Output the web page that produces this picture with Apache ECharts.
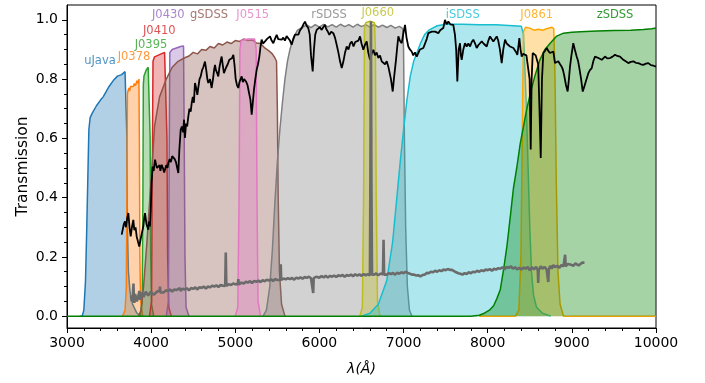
<!DOCTYPE html>
<html><head><meta charset="utf-8">
<script src="https://cdn.jsdelivr.net/npm/echarts@6/dist/echarts.min.js"></script>
<style>html,body{margin:0;padding:0;background:#fff}#c{width:705px;height:383px}</style>
</head><body><div id="c"></div>
<script>
// ---------- data ----------
const filterNames  = ['uJava','J0378','J0395','J0410','J0430','gSDSS','J0515','rSDSS','J0660','iSDSS','J0861','zSDSS'];
const filterColors = ['#1f77b4','#ff7f0e','#2ca02c','#d62728','#9467bd','#8c564b','#e377c2','#7f7f7f','#bcbd22','#17becf','#ffa500','#008000'];
const labelLam = [3392,3796,3998,4097,4204,4688,5207,6114,6693,7703,8582,9513];
const labelT   = [0.862,0.875,0.916,0.963,1.017,1.017,1.017,1.017,1.023,1.017,1.017,1.017];

const uJava = [[3150,0],[3180,0],[3200,0.02],[3220,0.12],[3235,0.3],[3250,0.5],[3260,0.63],[3275,0.67],[3300,0.685],[3350,0.71],[3400,0.73],[3430,0.74],[3470,0.76],[3500,0.775],[3550,0.795],[3600,0.81],[3650,0.815],[3690,0.825],[3706,0.83],[3712,0.6],[3718,0.3],[3730,0.15],[3750,0.08],[3780,0.04],[3830,0.01],[3880,0]];
const J0378 = [[3660,0],[3690,0.02],[3705,0.1],[3712,0.4],[3718,0.75],[3725,0.76],[3735,0.77],[3745,0.76],[3755,0.775],[3765,0.77],[3775,0.78],[3790,0.775],[3800,0.785],[3815,0.778],[3830,0.795],[3845,0.785],[3855,0.8],[3860,0.6],[3866,0.2],[3875,0.05],[3900,0]];
const J0395 = [[3870,0],[3893,0.05],[3902,0.4],[3907,0.78],[3915,0.81],[3940,0.83],[3965,0.84],[3980,0.845],[3988,0.6],[3995,0.2],[4005,0.04],[4030,0]];
const J0410 = [[3980,0],[4005,0.05],[4014,0.5],[4022,0.86],[4040,0.875],[4080,0.88],[4120,0.885],[4160,0.89],[4180,0.893],[4188,0.6],[4196,0.2],[4210,0.03],[4240,0]];
const J0430 = [[4180,0],[4205,0.05],[4214,0.5],[4222,0.89],[4250,0.9],[4300,0.905],[4350,0.91],[4385,0.912],[4393,0.6],[4402,0.2],[4415,0.03],[4450,0]];
const gSDSS = [[3850,0],[3880,0.02],[3910,0.1],[3950,0.25],[3985,0.4],[4010,0.5],[4040,0.64],[4100,0.74],[4180,0.8],[4250,0.84],[4320,0.86],[4400,0.872],[4450,0.878],[4500,0.89],[4550,0.885],[4600,0.9],[4650,0.897],[4700,0.91],[4750,0.905],[4800,0.92],[4850,0.915],[4900,0.925],[4950,0.92],[5000,0.93],[5050,0.927],[5100,0.935],[5150,0.93],[5200,0.932],[5250,0.922],[5300,0.92],[5350,0.905],[5400,0.895],[5440,0.885],[5470,0.872],[5490,0.86],[5500,0.7],[5510,0.4],[5525,0.15],[5550,0.04],[5590,0]];
const J0515 = [[5000,0],[5030,0.03],[5045,0.4],[5055,0.9],[5070,0.93],[5150,0.935],[5230,0.935],[5248,0.9],[5258,0.4],[5270,0.05],[5300,0]];
const rSDSS = [[5330,0],[5370,0.02],[5410,0.1],[5440,0.22],[5470,0.38],[5500,0.52],[5530,0.63],[5560,0.72],[5590,0.8],[5620,0.86],[5650,0.9],[5690,0.94],[5740,0.965],[5800,0.975],[5850,0.983],[5900,0.974],[5950,0.984],[6000,0.975],[6050,0.985],[6100,0.976],[6150,0.984],[6200,0.975],[6250,0.985],[6300,0.977],[6350,0.984],[6400,0.975],[6450,0.985],[6500,0.977],[6550,0.984],[6600,0.975],[6650,0.984],[6700,0.975],[6750,0.982],[6800,0.974],[6850,0.981],[6900,0.972],[6950,0.978],[6990,0.97],[7000,0.9],[7010,0.6],[7025,0.3],[7045,0.1],[7070,0.02],[7100,0]];
const J0660 = [[6480,0],[6510,0.03],[6525,0.4],[6535,0.97],[6550,0.99],[6600,0.995],[6655,0.99],[6665,0.9],[6675,0.4],[6690,0.05],[6720,0]];
const iSDSS = [[6500,0],[6600,0.01],[6700,0.04],[6800,0.12],[6870,0.25],[6920,0.4],[6960,0.52],[7000,0.63],[7040,0.73],[7080,0.81],[7120,0.86],[7160,0.89],[7200,0.92],[7250,0.95],[7300,0.965],[7400,0.98],[7500,0.985],[7700,0.985],[7900,0.983],[8100,0.983],[8300,0.98],[8400,0.978],[8425,0.95],[8440,0.85],[8460,0.7],[8480,0.5],[8500,0.3],[8520,0.15],[8545,0.07],[8580,0.03],[8650,0.01],[8750,0]];
const J0861 = [[7900,0],[8330,0],[8370,0.02],[8395,0.2],[8410,0.6],[8425,0.96],[8450,0.975],[8500,0.972],[8550,0.965],[8600,0.968],[8650,0.965],[8700,0.97],[8760,0.975],[8785,0.97],[8800,0.8],[8815,0.45],[8835,0.15],[8860,0.04],[8900,0],[10000,0]];
const zSDSS = [[3000,0],[7800,0],[7900,0.003],[7960,0.01],[8020,0.02],[8070,0.035],[8110,0.06],[8150,0.09],[8190,0.16],[8230,0.24],[8270,0.34],[8305,0.43],[8345,0.5],[8385,0.58],[8425,0.64],[8465,0.7],[8505,0.75],[8560,0.81],[8620,0.865],[8680,0.9],[8740,0.92],[8820,0.945],[8900,0.955],[9000,0.958],[9100,0.96],[9300,0.962],[9500,0.964],[9700,0.965],[9850,0.967],[9950,0.97],[10000,0.972]];
const filterCurves = [uJava,J0378,J0395,J0410,J0430,gSDSS,J0515,rSDSS,J0660,iSDSS,J0861,zSDSS];

const galaxySpec = [[3650,0.275],[3662,0.28],[3675,0.31],[3689,0.32],[3700,0.30],[3715,0.33],[3729,0.348],[3743,0.30],[3757,0.269],[3772,0.30],[3788,0.325],[3800,0.29],[3815,0.30],[3828,0.269],[3845,0.25],[3859,0.235],[3875,0.26],[3890,0.28],[3907,0.303],[3917,0.33],[3927,0.348],[3945,0.31],[3966,0.292],[3976,0.32],[3986,0.303],[3996,0.36],[4005,0.45],[4018,0.505],[4030,0.49],[4046,0.528],[4060,0.51],[4070,0.50],[4085,0.494],[4100,0.51],[4110,0.49],[4125,0.511],[4140,0.50],[4155,0.485],[4165,0.483],[4180,0.51],[4195,0.50],[4204,0.517],[4220,0.53],[4235,0.52],[4250,0.54],[4263,0.539],[4280,0.53],[4295,0.52],[4310,0.50],[4323,0.483],[4335,0.56],[4351,0.629],[4365,0.64],[4380,0.62],[4391,0.663],[4402,0.601],[4415,0.65],[4428,0.64],[4442,0.674],[4455,0.70],[4470,0.69],[4482,0.719],[4495,0.74],[4508,0.72],[4521,0.787],[4535,0.77],[4549,0.747],[4560,0.77],[4575,0.80],[4589,0.809],[4605,0.83],[4620,0.84],[4640,0.859],[4655,0.83],[4668,0.80],[4679,0.787],[4700,0.80],[4719,0.770],[4735,0.80],[4748,0.83],[4759,0.848],[4770,0.83],[4785,0.82],[4798,0.809],[4812,0.84],[4825,0.86],[4838,0.876],[4850,0.85],[4865,0.82],[4878,0.820],[4892,0.84],[4910,0.85],[4929,0.865],[4945,0.86],[4960,0.87],[4977,0.882],[4990,0.85],[5005,0.80],[5020,0.78],[5036,0.770],[5050,0.79],[5063,0.80],[5076,0.809],[5090,0.79],[5105,0.80],[5127,0.792],[5145,0.78],[5167,0.775],[5180,0.73],[5195,0.680],[5208,0.72],[5222,0.764],[5238,0.80],[5254,0.831],[5270,0.85],[5286,0.876],[5300,0.91],[5313,0.933],[5330,0.92],[5353,0.927],[5375,0.935],[5395,0.93],[5413,0.944],[5432,0.93],[5452,0.921],[5470,0.935],[5492,0.949],[5510,0.935],[5530,0.94],[5552,0.933],[5570,0.94],[5590,0.93],[5610,0.945],[5630,0.944],[5650,0.93],[5670,0.916],[5690,0.935],[5710,0.95],[5730,0.955],[5750,0.95],[5770,0.965],[5789,0.972],[5810,0.985],[5829,0.994],[5848,0.98],[5868,0.972],[5885,0.95],[5900,0.88],[5920,0.826],[5935,0.90],[5950,0.95],[5967,0.966],[5985,0.96],[6005,0.975],[6027,0.966],[6045,0.975],[6066,0.983],[6080,0.97],[6100,0.96],[6118,0.949],[6140,0.96],[6165,0.955],[6185,0.94],[6205,0.916],[6225,0.89],[6245,0.86],[6265,0.837],[6285,0.86],[6305,0.89],[6324,0.910],[6345,0.90],[6365,0.92],[6384,0.927],[6405,0.91],[6425,0.925],[6443,0.921],[6463,0.93],[6483,0.944],[6500,0.92],[6522,0.899],[6540,0.915],[6562,0.927],[6580,0.89],[6601,0.865],[6620,0.885],[6641,0.899],[6660,0.88],[6680,0.89],[6700,0.871],[6720,0.88],[6740,0.86],[6760,0.865],[6780,0.85],[6800,0.86],[6819,0.842],[6835,0.84],[6850,0.80],[6871,0.758],[6885,0.80],[6910,0.865],[6925,0.91],[6938,0.944],[6955,0.93],[6978,0.921],[6995,0.95],[7017,0.983],[7035,0.94],[7056,0.910],[7075,0.90],[7096,0.893],[7115,0.88],[7135,0.89],[7156,0.876],[7175,0.88],[7195,0.90],[7215,0.899],[7235,0.905],[7255,0.910],[7275,0.935],[7294,0.955],[7315,0.95],[7335,0.96],[7353,0.966],[7375,0.96],[7395,0.955],[7413,0.955],[7435,0.965],[7455,0.97],[7472,0.972],[7492,1.0],[7512,0.985],[7532,0.994],[7555,0.985],[7575,0.98],[7591,0.983],[7611,0.949],[7625,0.90],[7639,0.792],[7655,0.90],[7671,0.921],[7681,0.88],[7691,0.865],[7710,0.90],[7730,0.921],[7750,0.91],[7770,0.92],[7790,0.910],[7810,0.925],[7829,0.933],[7850,0.92],[7869,0.905],[7890,0.915],[7910,0.92],[7929,0.927],[7950,0.92],[7970,0.915],[7988,0.910],[8008,0.93],[8027,0.944],[8047,0.935],[8067,0.927],[8087,0.935],[8107,0.944],[8125,0.93],[8145,0.90],[8166,0.854],[8185,0.90],[8206,0.933],[8225,0.92],[8245,0.915],[8265,0.910],[8285,0.915],[8305,0.905],[8324,0.910],[8340,0.89],[8352,0.882],[8365,0.91],[8376,0.938],[8390,0.90],[8404,0.876],[8420,0.885],[8443,0.888],[8460,0.88],[8483,0.876],[8498,0.80],[8511,0.562],[8522,0.80],[8535,0.888],[8555,0.885],[8570,0.88],[8582,0.882],[8600,0.85],[8615,0.70],[8630,0.534],[8645,0.80],[8661,0.888],[8680,0.895],[8701,0.905],[8720,0.895],[8740,0.888],[8760,0.89],[8780,0.893],[8800,0.854],[8820,0.86],[8839,0.860],[8860,0.85],[8879,0.842],[8895,0.83],[8907,0.815],[8930,0.78],[8950,0.758],[8965,0.80],[8978,0.842],[8995,0.88],[9017,0.921],[9035,0.90],[9057,0.876],[9075,0.86],[9089,0.837],[9110,0.80],[9129,0.758],[9143,0.77],[9156,0.775],[9175,0.80],[9196,0.820],[9215,0.83],[9236,0.837],[9255,0.86],[9275,0.876],[9295,0.87],[9315,0.871],[9335,0.875],[9355,0.865],[9375,0.87],[9394,0.876],[9420,0.87],[9453,0.871],[9480,0.875],[9513,0.882],[9540,0.878],[9572,0.876],[9590,0.87],[9612,0.865],[9640,0.86],[9671,0.854],[9700,0.858],[9731,0.860],[9760,0.855],[9790,0.854],[9820,0.85],[9850,0.848],[9880,0.852],[9909,0.854],[9940,0.847],[9970,0.845],[10000,0.842]];

const emissionSpec = [[3760,0.07],[3770,0.05],[3780,0.06],[3790,0.11],[3795,0.06],[3800,0.045],[3810,0.075],[3820,0.08],[3830,0.05],[3840,0.045],[3850,0.07],[3860,0.085],[3870,0.055],[3880,0.06],[3890,0.08],[3900,0.075],[3910,0.065],[3920,0.07],[3935,0.082],[3950,0.078],[3965,0.07],[3980,0.072],[3995,0.082],[4010,0.08],[4030,0.072],[4050,0.076],[4075,0.084],[4100,0.084],[4105,0.10],[4110,0.08],[4130,0.086],[4150,0.08],[4175,0.087],[4200,0.085],[4225,0.09],[4250,0.083],[4275,0.09],[4300,0.088],[4340,0.095],[4350,0.085],[4375,0.093],[4400,0.09],[4425,0.094],[4450,0.087],[4475,0.095],[4500,0.092],[4525,0.097],[4550,0.09],[4575,0.098],[4600,0.095],[4625,0.1],[4650,0.093],[4675,0.1],[4700,0.097],[4725,0.103],[4750,0.1],[4775,0.104],[4800,0.098],[4825,0.105],[4850,0.103],[4880,0.102],[4887,0.215],[4894,0.102],[4920,0.108],[4950,0.105],[4975,0.11],[5000,0.108],[5030,0.107],[5036,0.125],[5042,0.107],[5070,0.113],[5100,0.11],[5125,0.116],[5150,0.113],[5175,0.118],[5200,0.112],[5225,0.119],[5250,0.116],[5275,0.12],[5300,0.115],[5325,0.121],[5350,0.118],[5375,0.123],[5400,0.12],[5425,0.124],[5450,0.119],[5475,0.125],[5500,0.122],[5535,0.122],[5540,0.175],[5546,0.122],[5575,0.127],[5600,0.124],[5625,0.128],[5650,0.125],[5675,0.129],[5700,0.123],[5725,0.13],[5750,0.127],[5775,0.131],[5800,0.126],[5825,0.132],[5850,0.129],[5875,0.133],[5900,0.128],[5920,0.128],[5926,0.078],[5932,0.128],[5960,0.133],[6000,0.13],[6025,0.135],[6050,0.131],[6075,0.136],[6100,0.13],[6125,0.136],[6150,0.133],[6175,0.137],[6200,0.132],[6225,0.138],[6250,0.135],[6275,0.139],[6300,0.133],[6325,0.139],[6350,0.136],[6375,0.14],[6400,0.135],[6425,0.141],[6450,0.137],[6475,0.141],[6500,0.136],[6525,0.142],[6550,0.138],[6575,0.142],[6600,0.137],[6606,0.5],[6612,0.995],[6618,0.45],[6625,0.14],[6650,0.14],[6675,0.144],[6700,0.138],[6730,0.144],[6755,0.14],[6762,0.258],[6769,0.14],[6800,0.14],[6825,0.145],[6850,0.142],[6875,0.146],[6900,0.14],[6925,0.147],[6950,0.143],[6975,0.148],[7000,0.145],[7025,0.15],[7050,0.146],[7075,0.143],[7100,0.14],[7125,0.14],[7150,0.137],[7175,0.138],[7200,0.134],[7225,0.139],[7250,0.14],[7275,0.146],[7300,0.145],[7325,0.15],[7350,0.148],[7375,0.153],[7400,0.15],[7425,0.155],[7450,0.152],[7475,0.157],[7500,0.155],[7525,0.159],[7550,0.156],[7575,0.156],[7600,0.152],[7625,0.148],[7650,0.145],[7675,0.143],[7700,0.14],[7725,0.145],[7750,0.142],[7775,0.148],[7800,0.145],[7825,0.15],[7850,0.148],[7875,0.153],[7900,0.15],[7925,0.155],[7950,0.152],[7975,0.157],[8000,0.155],[8025,0.159],[8050,0.153],[8075,0.16],[8100,0.157],[8125,0.162],[8150,0.16],[8175,0.165],[8200,0.158],[8225,0.166],[8250,0.163],[8275,0.168],[8300,0.16],[8325,0.165],[8350,0.158],[8375,0.163],[8400,0.157],[8425,0.164],[8450,0.16],[8475,0.166],[8500,0.155],[8525,0.165],[8550,0.158],[8575,0.166],[8595,0.155],[8600,0.112],[8606,0.155],[8630,0.168],[8650,0.16],[8675,0.166],[8700,0.158],[8715,0.158],[8720,0.115],[8726,0.158],[8745,0.17],[8760,0.16],[8780,0.172],[8800,0.165],[8825,0.17],[8850,0.163],[8875,0.172],[8900,0.168],[8915,0.168],[8920,0.207],[8926,0.168],[8950,0.176],[8980,0.174],[9000,0.168],[9020,0.17],[9040,0.178],[9060,0.176],[9080,0.171],[9100,0.175],[9125,0.181],[9150,0.18]];

const xTicks = [3000,4000,5000,6000,7000,8000,9000,10000];
const yTicks = [0,0.2,0.4,0.6,0.8,1.0];
const yMinorTicks = [0.05,0.1,0.15,0.25,0.3,0.35,0.45,0.5,0.55,0.65,0.7,0.75,0.85,0.9,0.95];

// ---------- chart ----------
const FONT = 'DejaVu Sans';
const chart = echarts.init(document.getElementById('c'), null, {renderer:'canvas'});
const series = [];
filterCurves.forEach((d, i) => {
  series.push({
    name: filterNames[i], type: 'line', data: d, showSymbol: false, symbol: 'none',
    lineStyle: {color: filterColors[i], width: 1.5},
    itemStyle: {color: filterColors[i]},
    areaStyle: {color: filterColors[i], opacity: 0.35},
    z: 2 + i * 0.01, silent: true
  });
});
series.push({name:'galaxy', type:'line', data: galaxySpec, showSymbol:false, symbol:'none',
  lineStyle:{color:'#000', width:1.8}, z: 3, silent:true});
series.push({name:'emission', type:'line', data: emissionSpec, showSymbol:false, symbol:'none',
  lineStyle:{color:'#6b6b6b', width:2.6}, z: 3.1, silent:true});
series.push({name:'labels', type:'scatter', symbolSize: 1, itemStyle:{color:'rgba(0,0,0,0)'}, z: 5,
  data: filterNames.map((n, i) => ({name: n, value: [labelLam[i], labelT[i]],
    label: {show: true, position: 'inside', formatter: '{b}', color: filterColors[i], fontSize: 11.5, fontFamily: FONT}})),
  silent: true});

chart.setOption({
  animation: false,
  backgroundColor: '#fff',
  grid: {left: 67, right: 49, top: 5, bottom: 55, show: true, borderColor: '#000', borderWidth: 1, backgroundColor: 'transparent'},
  xAxis: {
    type: 'value', min: xTicks[0], max: xTicks[xTicks.length-1], interval: 1000,
    axisLine: {show: true, onZero: false, lineStyle: {color: '#000', width: 1}},
    axisTick: {show: true, length: 5, lineStyle: {color: '#000'}},
    minorTick: {show: true, splitNumber: 5, length: 3, lineStyle: {color: '#000'}},
    axisLabel: {fontSize: 14, color: '#000', fontFamily: FONT, margin: 8, formatter: v => String(v)},
    splitLine: {show: false}, minorSplitLine: {show: false},
    name: 'λ(Å)', nameLocation: 'middle', nameGap: 34, nameMoveOverlap: false,
    nameTextStyle: {fontSize: 14, color: '#000', fontFamily: FONT, fontStyle: 'italic'}
  },
  yAxis: [{
    type: 'value', min: -0.04, max: 1.05, position: 'left',
    axisLine: {show: true, onZero: false, lineStyle: {color: '#000', width: 1}},
    axisTick: {show: true, length: 5, customValues: yTicks, lineStyle: {color: '#000'}},
    axisLabel: {customValues: yTicks, formatter: v => v.toFixed(1), fontSize: 14, color: '#000', fontFamily: FONT, margin: 9},
    splitLine: {show: false},
    name: 'Transmission', nameLocation: 'middle', nameGap: 36, nameMoveOverlap: false,
    nameTextStyle: {fontSize: 15.5, color: '#000', fontFamily: FONT}
  }, {
    type: 'value', min: -0.04, max: 1.05, position: 'left',
    axisLine: {show: false},
    axisTick: {show: true, length: 3, customValues: yMinorTicks, lineStyle: {color: '#000'}},
    axisLabel: {show: false}, splitLine: {show: false}
  }],
  series: series
});
</script>
</body></html>
